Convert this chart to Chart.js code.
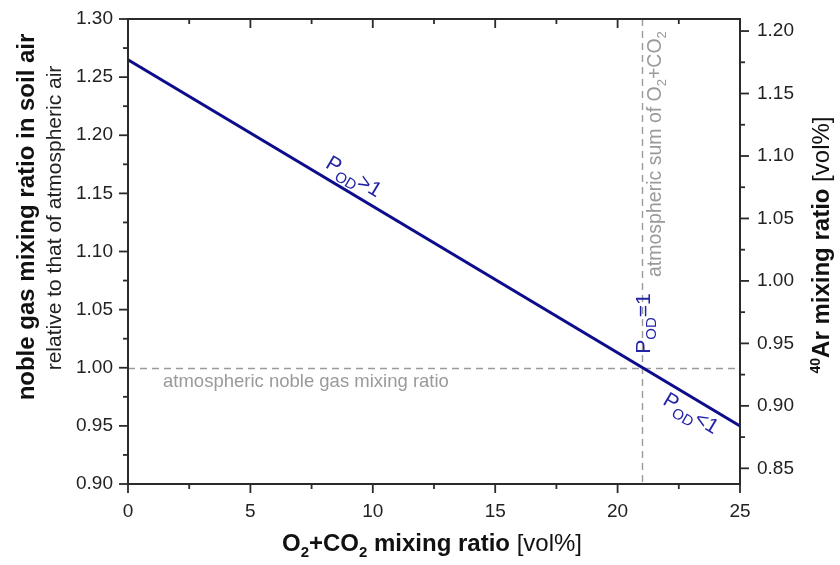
<!DOCTYPE html>
<html><head><meta charset="utf-8">
<script src="https://cdn.jsdelivr.net/npm/chart.js@4/dist/chart.umd.min.js"></script>
<style>html,body{margin:0;padding:0;background:#fff;}</style>
</head><body>
<canvas id="c" width="840" height="565" style="display:block;width:840px;height:565px"></canvas>
<script>
// ---- data ----
const mixingO2CO2 = [0, 25];            // O2+CO2 mixing ratio [vol%]
const nobleGasRatio = [1.265, 0.95];    // noble gas ratio relative to atmosphere
const xTicks = [0, 5, 10, 15, 20, 25];
const leftTicks = [0.90, 0.95, 1.00, 1.05, 1.10, 1.15, 1.20, 1.25, 1.30];
const rightTicks = [0.85, 0.90, 0.95, 1.00, 1.05, 1.10, 1.15, 1.20];
const atmosphericNobleGas = 1.00;
const atmosphericO2CO2 = 21;
const arAtmospheric = 0.9305;           // 40Ar vol% at ratio 1
const leftMin = 0.90, leftMax = 1.30;

const FONT = '"Liberation Sans", Arial, sans-serif';
const AXIS = '#2a2a2a';
const GREY = '#9a9a9a';
const BLUE = '#2424a6';

function richText(ctx, runs, x, y, angle, align) {
  ctx.save();
  ctx.translate(x, y);
  ctx.rotate(angle);
  let w = 0;
  runs.forEach(r => { ctx.font = r.font; r.w = ctx.measureText(r.text).width; w += r.w; });
  let cx = align === 'center' ? -w / 2 : (align === 'right' ? -w : 0);
  ctx.textAlign = 'left';
  ctx.textBaseline = 'alphabetic';
  runs.forEach(r => {
    ctx.font = r.font; ctx.fillStyle = r.color;
    ctx.fillText(r.text, cx, r.dy || 0);
    cx += r.w;
  });
  ctx.restore();
}

const decor = {
  id: 'decor',
  beforeDatasetsDraw(chart) {
    const {ctx, chartArea: a, scales: {x, y}} = chart;
    ctx.save();
    ctx.strokeStyle = GREY; ctx.lineWidth = 1.4; ctx.setLineDash([7, 5]);
    const yy = Math.round(y.getPixelForValue(atmosphericNobleGas)) + 0.5;
    ctx.beginPath(); ctx.moveTo(a.left, yy); ctx.lineTo(a.right, yy); ctx.stroke();
    const xx = Math.round(x.getPixelForValue(atmosphericO2CO2)) + 0.5;
    ctx.beginPath(); ctx.moveTo(xx, a.top); ctx.lineTo(xx, a.bottom); ctx.stroke();
    ctx.restore();
  },
  afterDraw(chart) {
    const {ctx, chartArea: a, scales: {x, y, y2}} = chart;
    ctx.save();
    // frame
    ctx.strokeStyle = AXIS; ctx.lineWidth = 2;
    ctx.strokeRect(a.left, a.top, a.right - a.left, a.bottom - a.top);
    // ticks
    ctx.lineWidth = 1.8;
    const line = (x1, y1, x2, y2_) => { ctx.beginPath(); ctx.moveTo(x1, y1); ctx.lineTo(x2, y2_); ctx.stroke(); };
    xTicks.forEach((v, i) => {
      const p = x.getPixelForValue(v);
      line(p, a.bottom, p, a.bottom + 9);
      line(p, a.top, p, a.top + 9);
      if (i < xTicks.length - 1) {
        const m = x.getPixelForValue((v + xTicks[i + 1]) / 2);
        line(m, a.bottom, m, a.bottom + 5);
        line(m, a.top, m, a.top + 5);
      }
    });
    leftTicks.forEach((v, i) => {
      const p = y.getPixelForValue(v);
      line(a.left, p, a.left - 9, p);
      if (i < leftTicks.length - 1) {
        const m = y.getPixelForValue((v + leftTicks[i + 1]) / 2);
        line(a.left, m, a.left - 5, m);
      }
    });
    rightTicks.forEach((v, i) => {
      const p = y2.getPixelForValue(v);
      line(a.right, p, a.right + 9, p);
      const m = y2.getPixelForValue(v + 0.025);
      if (m > a.top) line(a.right, m, a.right + 5, m);
      if (i === 0) { const m0 = y2.getPixelForValue(v - 0.025); if (m0 < a.bottom) line(a.right, m0, a.right + 5, m0); }
    });

    const B24 = 'bold 24px ' + FONT, N24 = '24px ' + FONT;
    // x title
    richText(ctx, [
      {text: 'O', font: B24, color: '#111'},
      {text: '2', font: 'bold 15px ' + FONT, color: '#111', dy: 6},
      {text: '+CO', font: B24, color: '#111'},
      {text: '2', font: 'bold 15px ' + FONT, color: '#111', dy: 6},
      {text: ' mixing ratio ', font: B24, color: '#111'},
      {text: '[vol%]', font: N24, color: '#111'}
    ], 432, 551, 0, 'center');
    // left titles
    richText(ctx, [{text: 'noble gas mixing ratio in soil air', font: B24, color: '#111'}], 34, 217, -Math.PI / 2, 'center');
    richText(ctx, [{text: 'relative to that of atmospheric air', font: '21px ' + FONT, color: '#222'}], 61, 218, -Math.PI / 2, 'center');
    // right title
    richText(ctx, [
      {text: '40', font: 'bold 14px ' + FONT, color: '#111', dy: -9},
      {text: 'Ar mixing ratio ', font: B24, color: '#111'},
      {text: '[vol%]', font: N24, color: '#111'}
    ], 829, 245, -Math.PI / 2, 'center');

    // annotations
    const yRef = y.getPixelForValue(atmosphericNobleGas);
    const xRef = x.getPixelForValue(atmosphericO2CO2);
    richText(ctx, [{text: 'atmospheric noble gas mixing ratio', font: '18.5px ' + FONT, color: GREY}], x.getPixelForValue(1.43), yRef + 19, 0, 'left');
    richText(ctx, [
      {text: 'atmospheric sum of O', font: '19.5px ' + FONT, color: GREY},
      {text: '2', font: '13px ' + FONT, color: GREY, dy: 5},
      {text: '+CO', font: '19.5px ' + FONT, color: GREY},
      {text: '2', font: '13px ' + FONT, color: GREY, dy: 5}
    ], xRef + 19, a.top + 258, -Math.PI / 2, 'left');

    const pod = (rel) => [
      {text: 'P', font: '21px ' + FONT, color: BLUE},
      {text: 'OD', font: '15px ' + FONT, color: BLUE, dy: 6},
      {text: rel, font: '21px ' + FONT, color: BLUE}
    ];
    richText(ctx, pod('=1'), xRef + 8, yRef - 14, -Math.PI / 2, 'left');
    const slope = (y.getPixelForValue(nobleGasRatio[1]) - y.getPixelForValue(nobleGasRatio[0])) /
                  (x.getPixelForValue(mixingO2CO2[1]) - x.getPixelForValue(mixingO2CO2[0]));
    const ang = Math.atan(slope);
    const lineAt = (xv) => nobleGasRatio[0] + (nobleGasRatio[1] - nobleGasRatio[0]) * (xv - mixingO2CO2[0]) / (mixingO2CO2[1] - mixingO2CO2[0]);
    const px1 = x.getPixelForValue(8.9), py1 = y.getPixelForValue(lineAt(8.9));
    richText(ctx, pod('>1'), px1 + 9 * Math.sin(ang), py1 - 9 * Math.cos(ang), ang, 'center');
    const px2 = x.getPixelForValue(23.3), py2 = y.getPixelForValue(lineAt(23.3));
    richText(ctx, pod('<1'), px2 - 21 * Math.sin(ang), py2 + 21 * Math.cos(ang), ang, 'center');
    ctx.restore();
  }
};

const noVPad = s => { s.paddingTop = 0; s.paddingBottom = 0; };
const tickFont = {family: FONT, size: 19};
new Chart(document.getElementById('c'), {
  type: 'line',
  data: {
    datasets: [{
      data: mixingO2CO2.map((v, i) => ({x: v, y: nobleGasRatio[i]})),
      borderColor: '#0d0d8c', borderWidth: 3, pointRadius: 0, fill: false, tension: 0
    }]
  },
  options: {
    responsive: false, animation: false, devicePixelRatio: 1,
    layout: {padding: {top: 19, left: 0, right: 0, bottom: 0}},
    plugins: {legend: {display: false}, tooltip: {enabled: false}},
    scales: {
      x: {
        type: 'linear', position: 'bottom', min: 0, max: 25,
        afterBuildTicks: s => { s.ticks = xTicks.map(v => ({value: v})); },
        ticks: {font: tickFont, color: '#222', padding: 16, maxRotation: 0, callback: v => String(v)},
        grid: {display: false, drawTicks: false}, border: {display: false},
        afterFit: s => { s.height = 81; s.paddingLeft = 0; s.paddingRight = 0; }
      },
      y: {
        type: 'linear', position: 'left', min: leftMin, max: leftMax,
        afterBuildTicks: s => { s.ticks = leftTicks.map(v => ({value: v})); },
        ticks: {font: tickFont, color: '#222', padding: 15, callback: v => v.toFixed(2)},
        grid: {display: false, drawTicks: false}, border: {display: false},
        afterFit: s => { s.width = 128; noVPad(s); }
      },
      y2: {
        type: 'linear', position: 'right', min: leftMin * arAtmospheric, max: leftMax * arAtmospheric,
        afterBuildTicks: s => { s.ticks = rightTicks.map(v => ({value: v})); },
        ticks: {font: tickFont, color: '#222', padding: 17, callback: v => v.toFixed(2)},
        grid: {display: false, drawTicks: false}, border: {display: false},
        afterFit: s => { s.width = 100; noVPad(s); }
      }
    }
  },
  plugins: [decor]
});
</script>
</body></html>
